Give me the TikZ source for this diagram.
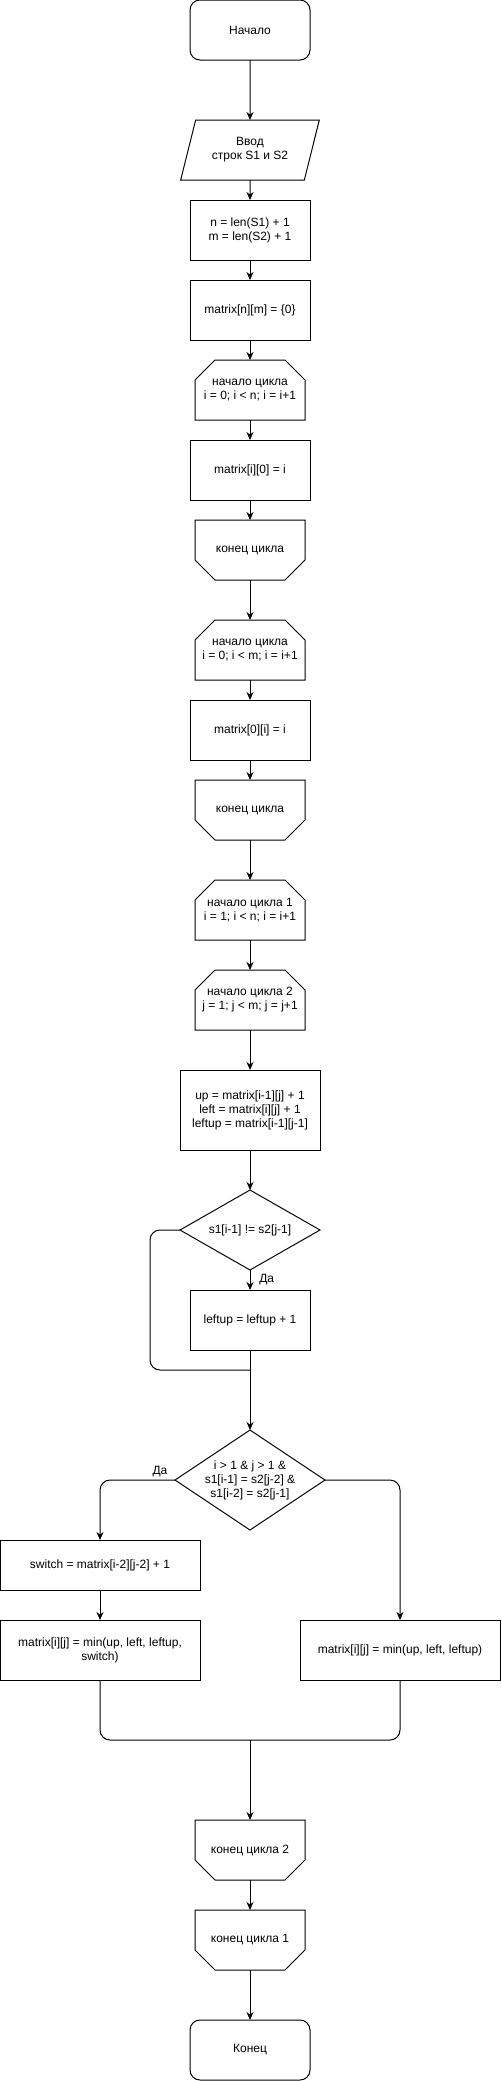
\documentclass[tikz,border=0pt]{standalone}
\usepackage{fontspec}
\setmainfont{Liberation Sans}
\usetikzlibrary{shapes.geometric,arrows.meta,positioning,calc}
% outline of a loop start / loop end block (cut corners on top / bottom)
\newcommand\loopopen[1]{\draw (#1.south west) -- ($(#1.north west)+(0,-20)$) -- ($(#1.north west)+(20,0)$) -- ($(#1.north east)+(-20,0)$) -- ($(#1.north east)+(0,-20)$) -- (#1.south east) -- cycle;}
\newcommand\loopclose[1]{\draw (#1.north west) -- ($(#1.south west)+(0,20)$) -- ($(#1.south west)+(20,0)$) -- ($(#1.south east)+(-20,0)$) -- ($(#1.south east)+(0,20)$) -- (#1.north east) -- cycle;}

\begin{document}
\begin{tikzpicture}[x=1pt, y=1pt, font=\fontsize{12pt}{14pt}\selectfont, line width=1pt,
  every node/.append style={outer sep=0pt},
  term/.style={draw, rounded corners=10pt, align=center, minimum width=120pt, minimum height=60pt},
  box/.style={draw, align=center, minimum width=120pt, minimum height=60pt, inner sep=2pt},
  io/.style={draw, trapezium, trapezium left angle=67, trapezium right angle=113, trapezium stretches=true, align=center, minimum width=140pt, minimum height=60pt, inner sep=0pt},
  loopblk/.style={align=center, minimum width=110pt, minimum height=60pt, inner sep=0pt},
  cond/.style={draw, diamond, aspect=1.75, align=center, inner sep=0pt},
  arr/.style={-{Stealth[length=8pt, width=7pt]}}]
\useasboundingbox (0,0) rectangle (501,-2081);
\node[term] (start) at (250,-30) {Начало};
\node[io, below=60pt of start] (input) {Ввод\\строк S1 и S2};
\node[box, below=20pt of input] (init) {n = len(S1) + 1\\m = len(S2) + 1};
\node[box, below=20pt of init] (alloc) {matrix[n][m] = \{0\}};
\node[loopblk, below=20pt of alloc] (rowsbeg) {начало цикла\\i = 0; i < n; i = i+1};
\node[box, below=20pt of rowsbeg] (rowsset) {matrix[i][0] = i};
\node[loopblk, below=20pt of rowsset] (rowsend) {конец цикла};
\node[loopblk, below=40pt of rowsend] (colsbeg) {начало цикла\\i = 0; i < m; i = i+1};
\node[box, below=20pt of colsbeg] (colsset) {matrix[0][i] = i};
\node[loopblk, below=20pt of colsset] (colsend) {конец цикла};
\node[loopblk, below=40pt of colsend] (outerbeg) {начало цикла 1\\i = 1; i < n; i = i+1};
\node[loopblk, below=30pt of outerbeg] (innerbeg) {начало цикла 2\\j = 1; j < m; j = j+1};
\node[box, minimum width=140pt, minimum height=80pt, below=40pt of innerbeg] (costs) {up = matrix[i-1][j] + 1\\left = matrix[i][j] + 1\\leftup = matrix[i-1][j-1]};
\node[cond, minimum width=140pt, minimum height=80pt, below=40pt of costs] (diff) {s1[i-1] != s2[j-1]};
\node[box, below=20pt of diff] (incr) {leftup = leftup + 1};
\node[cond, aspect=1.5, inner sep=-4pt, minimum width=150pt, minimum height=100pt, below=80pt of incr] (swap) {i > 1 \& j > 1 \&\\s1[i-1] = s2[j-2] \&\\s1[i-2] = s2[j-1]};
\node[box, minimum width=200pt, minimum height=50pt] (swcost) at (100,-1565) {switch = matrix[i-2][j-2] + 1};
\node[box, minimum width=200pt, below=30pt of swcost] (minsw) {matrix[i][j] = min(up, left, leftup,\\switch)};
\node[box, minimum width=200pt] (minplain) at (400,-1650) {matrix[i][j] = min(up, left, leftup)};
\coordinate (merge) at (250,-1740);
\node[loopblk, below=80pt of merge] (innerend) {конец цикла 2};
\node[loopblk, below=30pt of innerend] (outerend) {конец цикла 1};
\node[term, below=50pt of outerend] (stop) {Конец};
\coordinate (rejoin) at ($(incr.south)+(0,-20)$);
\loopopen{rowsbeg}
\loopclose{rowsend}
\loopopen{colsbeg}
\loopclose{colsend}
\loopopen{outerbeg}
\loopopen{innerbeg}
\loopclose{innerend}
\loopclose{outerend}
\draw[arr] (start) -- (input);
\draw[arr] (input) -- (init);
\draw[arr] (init) -- (alloc);
\draw[arr] (alloc) -- (rowsbeg);
\draw[arr] (rowsbeg) -- (rowsset);
\draw[arr] (rowsset) -- (rowsend);
\draw[arr] (rowsend) -- (colsbeg);
\draw[arr] (colsbeg) -- (colsset);
\draw[arr] (colsset) -- (colsend);
\draw[arr] (colsend) -- (outerbeg);
\draw[arr] (outerbeg) -- (innerbeg);
\draw[arr] (innerbeg) -- (costs);
\draw[arr] (costs) -- (diff);
\draw[arr] (diff) -- node[right, xshift=6pt] {Да} (incr);
\draw[rounded corners=10pt] (diff.west) -- ++(-30,0) |- (rejoin);
\draw[arr] (incr) -- (swap);
\draw[arr, rounded corners=10pt] (swap.west) -| node[pos=0.1, above] {Да} (swcost.north);
\draw[arr, rounded corners=10pt] (swap.east) -| (minplain.north);
\draw[arr] (swcost) -- (minsw);
\draw[rounded corners=10pt] (minsw.south) |- (merge) -| (minplain.south);
\draw[arr] (merge) -- (innerend);
\draw[arr] (innerend) -- (outerend);
\draw[arr] (outerend) -- (stop);
\end{tikzpicture}
\end{document}
